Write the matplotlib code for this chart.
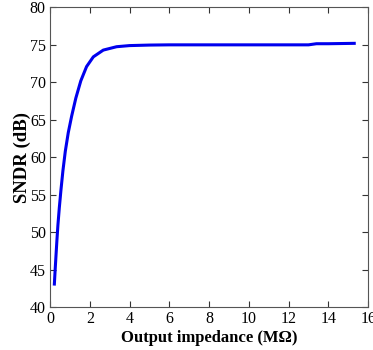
import matplotlib
matplotlib.use("Agg")
import matplotlib.pyplot as plt

impedance = [0.22, 0.26, 0.30, 0.35, 0.40, 0.47, 0.55, 0.65, 0.77, 0.92, 1.09, 1.30, 1.55, 1.84, 2.18, 2.68, 3.35, 4.0, 5.0, 6.0, 8.0, 10.0, 12.0, 13.0, 13.4, 14.0, 15.3]
sndr = [43.1, 45.0, 46.8, 49.0, 51.0, 53.3, 55.6, 58.2, 60.8, 63.3, 65.5, 67.9, 70.2, 72.1, 73.4, 74.3, 74.75, 74.9, 74.97, 75.0, 75.0, 75.0, 75.0, 75.0, 75.15, 75.15, 75.2]

xticks = [0, 2, 4, 6, 8, 10, 12, 14, 16]
yticks = [40, 45, 50, 55, 60, 65, 70, 75, 80]

plt.rcParams['font.family'] = ['Liberation Serif', 'DejaVu Serif']
fig = plt.figure(figsize=(3.73, 3.5), dpi=100)
ax = fig.add_axes([0.134, 0.122, 0.853, 0.857])
ax.plot(impedance, sndr, color='#0000ee', linewidth=2.2)
ax.set_xlim(0, 16)
ax.set_ylim(40, 80)
ax.set_xticks(xticks)
ax.set_yticks(yticks)
ax.tick_params(direction='in', top=True, right=True, labelsize=11.5, length=4, colors='#333333', labelcolor='black', pad=3)
for s in ax.spines.values():
    s.set_color('#555555')
    s.set_linewidth(0.8)
ax.set_xlabel('Output impedance (MΩ)', fontsize=12, fontweight='bold', labelpad=1.5)
ax.set_ylabel('SNDR (dB)', fontsize=13.5, fontweight='bold', labelpad=-1)
fig.savefig('out.png', dpi=100)
